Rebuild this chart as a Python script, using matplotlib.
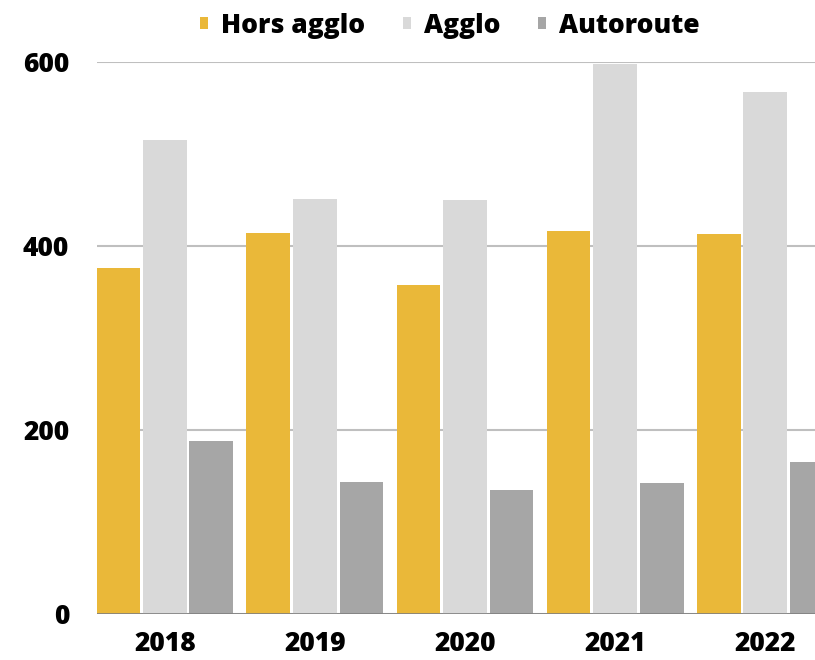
import numpy as np
from matplotlib import pyplot as plt

years = ['2018', '2019', '2020', '2021', '2022']
hors_agglo = [376, 414, 358, 416, 413]
agglo = [515, 451, 450, 598, 567]
autoroute = [188, 143, 135, 142, 165]

series = ['Hors agglo', 'Agglo', 'Autoroute']
colors = ['#EAB839', '#D9D9D9', '#A6A6A6']

plt.rcParams['font.family'] = ['Open Sans', 'DejaVu Sans']

fig = plt.figure(figsize=(8.15, 6.6), dpi=100)
ax = fig.add_axes([97/815, 1 - 614/660, 1 - 97/815, 552/660])

x = np.arange(len(years))
w = 0.293
for k, (vals, name, c) in enumerate(zip([hors_agglo, agglo, autoroute], series, colors)):
    ax.bar(x + (k - 1) * 0.31, vals, width=w, color=c, label=name, zorder=2)

ax.set_xlim(-0.453, 4.333)
ax.set_ylim(0, 600)
ax.set_yticks([0, 200, 400, 600])
ax.set_xticks(x, years)
ax.grid(axis='y', color='#BFBFBF', linewidth=1.5, zorder=0)
ax.axhline(0, color='#7F7F7F', linewidth=1.2, zorder=3)
for s in ax.spines.values():
    s.set_visible(False)
ax.tick_params(length=0, labelsize=19)
ax.tick_params(axis='y', pad=20)
ax.tick_params(axis='x', pad=12)
for t in ax.get_xticklabels() + ax.get_yticklabels():
    t.set_fontweight('heavy')

fig.legend(loc='center', bbox_to_anchor=(0.552, 0.961), ncol=3, frameon=False,
           prop={'size': 19, 'weight': 'heavy'}, handlelength=0.32, handleheight=0.32,
           handletextpad=0.5, columnspacing=1.4)

fig.savefig('out.png', dpi=100)
